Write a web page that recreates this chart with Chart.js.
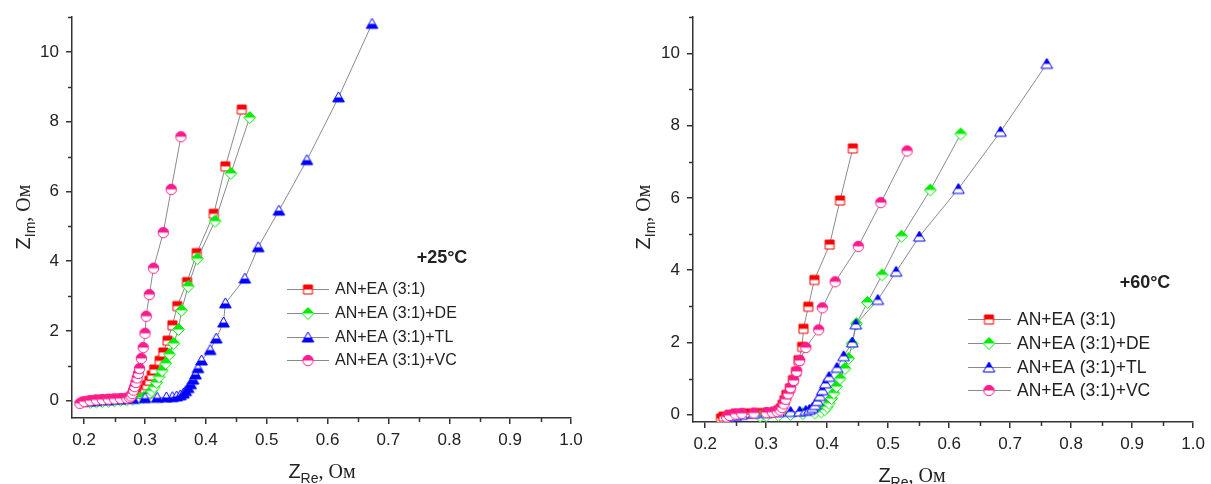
<!DOCTYPE html>
<html>
<head>
<meta charset="utf-8">
<title>Nyquist plots</title>
<script src="https://cdn.jsdelivr.net/npm/chart.js@4.4.1/dist/chart.umd.min.js"></script>
<style>
body { margin:0; background:#fff; }
#wrap { position:relative; width:1211px; height:484px; overflow:hidden; }
#wrap canvas { position:absolute; top:0; }
</style>
</head>
<body>
<div id="wrap">
	<canvas id="c25" width="600" height="484" style="left:0"></canvas>
	<canvas id="c60" width="591" height="484" style="left:620px"></canvas>
</div>
<script>
var seriesLabels = ['AN+EA (3:1)', 'AN+EA (3:1)+DE', 'AN+EA (3:1)+TL', 'AN+EA (3:1)+VC'];
var seriesColors = ['#ff0000', '#00ee00', '#0000ff', '#ff1a8c'];

var xTickValues = [0.2, 0.3, 0.4, 0.5, 0.6, 0.7, 0.8, 0.9, 1.0];
var xMinorValues = [0.25, 0.35, 0.45, 0.55, 0.65, 0.75, 0.85, 0.95];
var yTickValues = [0, 2, 4, 6, 8, 10];
var yMinorValues = [1, 3, 5, 7, 9, 11];

// +25 C
var re25_AN = [0.200,0.210,0.220,0.230,0.240,0.250,0.260,0.270,0.280,0.285,0.290,0.294,0.297,0.300,0.303,0.307,0.311,0.315,0.324,0.330,0.337,0.345,0.353,0.369,0.385,0.413,0.432,0.459];
var im25_AN = [-0.04,-0.01,0.01,0.02,0.03,0.04,0.05,0.06,0.07,0.09,0.12,0.17,0.24,0.33,0.44,0.57,0.72,0.89,1.14,1.38,1.72,2.16,2.71,3.40,4.23,5.36,6.72,8.35];
var re25_DE = [0.210,0.220,0.230,0.240,0.250,0.260,0.270,0.280,0.290,0.298,0.303,0.307,0.311,0.315,0.319,0.323,0.328,0.334,0.340,0.347,0.355,0.360,0.371,0.386,0.415,0.441,0.472];
var im25_DE = [-0.05,-0.04,-0.03,-0.02,-0.01,0.01,0.02,0.04,0.06,0.09,0.13,0.19,0.28,0.39,0.52,0.68,0.86,1.07,1.33,1.64,2.04,2.59,3.28,4.07,5.15,6.52,8.12];
var re25_TL = [0.210,0.220,0.240,0.260,0.280,0.300,0.320,0.335,0.345,0.352,0.358,0.363,0.367,0.371,0.375,0.379,0.383,0.387,0.393,0.407,0.417,0.429,0.432,0.464,0.486,0.520,0.566,0.618,0.673];
var im25_TL = [-0.02,-0.01,0.01,0.03,0.05,0.07,0.08,0.09,0.10,0.12,0.15,0.20,0.27,0.36,0.47,0.60,0.75,0.93,1.15,1.45,1.78,2.24,2.79,3.50,4.40,5.45,6.90,8.70,10.81];
var re25_VC = [0.193,0.200,0.210,0.220,0.230,0.240,0.250,0.260,0.270,0.275,0.277,0.279,0.281,0.283,0.285,0.287,0.289,0.291,0.294,0.297,0.300,0.302,0.307,0.314,0.330,0.343,0.359];
var im25_VC = [-0.08,-0.03,0.00,0.02,0.03,0.04,0.05,0.06,0.07,0.09,0.13,0.20,0.30,0.40,0.52,0.65,0.78,0.92,1.21,1.52,1.93,2.42,3.04,3.80,4.82,6.06,7.57];

// +60 C
var re60_AN = [0.226,0.230,0.240,0.250,0.270,0.290,0.305,0.315,0.320,0.324,0.327,0.330,0.333,0.339,0.344,0.349,0.353,0.359,0.361,0.369,0.379,0.404,0.421,0.442];
var im60_AN = [-0.10,-0.05,0.00,0.03,0.04,0.05,0.06,0.08,0.12,0.18,0.28,0.40,0.55,0.73,0.96,1.19,1.51,1.88,2.38,2.99,3.73,4.71,5.93,7.37];
var re60_DE = [0.290,0.300,0.320,0.340,0.360,0.380,0.390,0.396,0.400,0.403,0.407,0.411,0.415,0.421,0.429,0.435,0.441,0.448,0.466,0.490,0.522,0.569,0.619];
var im60_DE = [-0.04,-0.03,-0.01,0.01,0.03,0.05,0.08,0.14,0.22,0.32,0.45,0.60,0.78,1.00,1.28,1.56,1.97,2.52,3.11,3.87,4.94,6.22,7.77];
var re60_TL = [0.240,0.250,0.260,0.280,0.300,0.320,0.340,0.355,0.365,0.371,0.376,0.380,0.384,0.388,0.392,0.397,0.403,0.416,0.427,0.441,0.447,0.483,0.513,0.551,0.615,0.684,0.760];
var im60_TL = [-0.06,-0.03,0.00,0.03,0.05,0.07,0.08,0.09,0.11,0.14,0.19,0.27,0.38,0.52,0.68,0.87,1.05,1.30,1.62,2.00,2.50,3.18,3.96,4.93,6.25,7.83,9.71];
var re60_VC = [0.235,0.240,0.250,0.260,0.280,0.300,0.310,0.318,0.323,0.326,0.329,0.332,0.336,0.340,0.345,0.350,0.355,0.365,0.386,0.392,0.413,0.451,0.488,0.531];
var im60_VC = [-0.06,-0.02,0.02,0.04,0.05,0.06,0.07,0.09,0.13,0.20,0.30,0.43,0.58,0.75,0.95,1.20,1.50,1.86,2.35,2.96,3.68,4.66,5.87,7.30];

var AXIS = '#333';
var TEXT = '#222';
var SANS = '"Liberation Sans", Arial, sans-serif';
var SERIF = '"Liberation Serif", "Times New Roman", serif';

// half filled marker drawn once on a small canvas, used as pointStyle
function makeMarker(shape, color, half) {
	var s = 15, m = 7.5;
	var c = document.createElement('canvas');
	c.width = s; c.height = s;
	var g = c.getContext('2d');
	var path = function() {
		g.beginPath();
		if (shape == 'square') g.rect(m - 4.5, m - 4.5, 9, 9);
		else if (shape == 'circle') g.arc(m, m, 5.2, 0, Math.PI * 2);
		else if (shape == 'diamond') {
			g.moveTo(m, m - 6); g.lineTo(m + 6, m); g.lineTo(m, m + 6); g.lineTo(m - 6, m); g.closePath();
		} else {
			g.moveTo(m, m - 5.5); g.lineTo(m + 5.8, m + 4.5); g.lineTo(m - 5.8, m + 4.5); g.closePath();
		}
	};
	path(); g.fillStyle = '#fff'; g.fill();
	g.save(); path(); g.clip();
	g.fillStyle = color;
	if (half == 'top') g.fillRect(0, 0, s, m); else g.fillRect(0, m, s, s - m);
	g.restore();
	path(); g.strokeStyle = color; g.lineWidth = 1; g.stroke();
	return c;
}

function pairs(xs, ys) {
	return xs.map(function(x, i) { return {x:x, y:ys[i]}; });
}

var minorTicks = {
	id:'minorTicks',
	afterDraw:function(chart) {
		var ctx = chart.ctx, xs = chart.scales.x, ys = chart.scales.y;
		ctx.save();
		ctx.strokeStyle = AXIS;
		ctx.lineWidth = 1.5;
		xMinorValues.forEach(function(v) {
			var px = Math.round(xs.getPixelForValue(v)) + 0.5;
			ctx.beginPath(); ctx.moveTo(px, xs.top); ctx.lineTo(px, xs.top + 4); ctx.stroke();
		});
		yMinorValues.forEach(function(v) {
			if (v > ys.max) return;
			var py = Math.round(ys.getPixelForValue(v)) + 0.5;
			ctx.beginPath(); ctx.moveTo(ys.right, py); ctx.lineTo(ys.right - 4, py); ctx.stroke();
		});
		ctx.restore();
	}
};

// text pieces with subscript, centred on (cx, cy)
function drawParts(ctx, parts, cx, cy, angle) {
	ctx.save();
	ctx.translate(cx, cy);
	ctx.rotate(angle);
	ctx.textBaseline = 'alphabetic';
	ctx.fillStyle = TEXT;
	var w = 0;
	parts.forEach(function(p) { ctx.font = p[1]; w += ctx.measureText(p[0]).width; });
	var x = -w / 2;
	parts.forEach(function(p) {
		ctx.font = p[1];
		ctx.fillText(p[0], x, 7 + p[2]);
		x += ctx.measureText(p[0]).width;
	});
	ctx.restore();
}

var insetLegend = {
	id:'insetLegend',
	afterDraw:function(chart, args, o) {
		var ctx = chart.ctx;
		ctx.save();
		chart.data.datasets.forEach(function(ds, i) {
			var y = o.rows[i];
			ctx.strokeStyle = '#8a8a8a';
			ctx.lineWidth = 1;
			ctx.beginPath(); ctx.moveTo(o.x0, y + 0.5); ctx.lineTo(o.x1, y + 0.5); ctx.stroke();
			var img = ds.pointStyle;
			ctx.drawImage(img, o.xm - img.width / 2, y - img.height / 2 + 0.5);
			ctx.fillStyle = TEXT;
			ctx.font = o.font;
			ctx.textBaseline = 'middle';
			ctx.fillText(ds.label, o.xt, y + 1);
		});
		ctx.font = 'bold 18px ' + SANS;
		ctx.textBaseline = 'middle';
		ctx.textAlign = 'center';
		ctx.fillText(o.tag, o.tagX, o.tagY);
		ctx.restore();

		drawParts(ctx, [['Z', '20px ' + SANS, 0], ['Re', '14px ' + SANS, 5], [', Ом', '20px ' + SERIF, 0]], o.xTitle[0], o.xTitle[1], 0);
		drawParts(ctx, [['Z', '20px ' + SANS, 0], ['Im', '14px ' + SANS, 5], [', Ом', '20px ' + SERIF, 0]], o.yTitle[0], o.yTitle[1], -Math.PI / 2);
	}
};

var NyquistFactory = function(params) {
	var chart;
	var markers;
	var ctx;

	var init = function() {
		ctx = document.getElementById(params.canvasId).getContext('2d');
		markers = params.shapes.map(function(shape, i) {
			return makeMarker(shape, seriesColors[i], params.halves[i]);
		});
	};

	init();

	var tickFont = {family:SANS, size:17};

	return {
		build:function(series) {
			if (chart) chart.destroy();

			var datasets = series.map(function(s, i) {
				return {
					label:seriesLabels[i],
					data:pairs(s[0], s[1]),
					showLine:true,
					borderColor:'#8a8a8a',
					borderWidth:1,
					pointStyle:markers[i],
					pointRadius:4,
					order:4 - i
				};
			});

			chart = new Chart(ctx, {
				type:'scatter',
				data:{datasets:datasets},
				plugins:[minorTicks, insetLegend],
				options:{
					responsive:false,
					animation:false,
					devicePixelRatio:1,
					events:[],
					layout:{padding:{left:0, top:15, right:params.padRight, bottom:0}},
					plugins:{
						legend:{display:false},
						tooltip:{enabled:false},
						insetLegend:params.legend
					},
					scales:{
						x:{
							type:'linear',
							min:params.xMin,
							max:1.0,
							afterFit:function(s) { s.height = params.xHeight; },
							afterBuildTicks:function(s) { s.ticks = xTickValues.map(function(v) { return {value:v}; }); },
							ticks:{callback:function(v) { return v.toFixed(1); }, font:tickFont, color:TEXT, padding:6, maxRotation:0, autoSkip:false},
							grid:{drawOnChartArea:false, tickLength:6, color:AXIS, lineWidth:1.5},
							border:{color:AXIS, width:1.5}
						},
						y:{
							type:'linear',
							min:params.yMin,
							max:11,
							afterFit:function(s) { s.width = params.yWidth; },
							afterBuildTicks:function(s) { s.ticks = yTickValues.map(function(v) { return {value:v}; }); },
							ticks:{callback:function(v) { return String(v); }, font:tickFont, color:TEXT, padding:7, autoSkip:false},
							grid:{drawOnChartArea:false, tickLength:6, color:AXIS, lineWidth:1.5},
							border:{color:AXIS, width:1.5}
						}
					}
				}
			});
		}
	};
};

var left = NyquistFactory({
	canvasId:'c25',
	shapes:['square', 'diamond', 'triangle', 'circle'],
	halves:['top', 'top', 'bottom', 'top'],
	xMin:0.18, yMin:-0.5,
	yWidth:72, xHeight:66, padRight:29,
	legend:{rows:[289, 313, 337, 360], x0:287, x1:329, xm:308, xt:335, font:'16px ' + SANS,
		tag:'+25°C', tagX:442, tagY:258, xTitle:[322, 471], yTitle:[23, 217]}
});
left.build([[re25_AN, im25_AN], [re25_DE, im25_DE], [re25_TL, im25_TL], [re25_VC, im25_VC]]);

var right = NyquistFactory({
	canvasId:'c60',
	shapes:['square', 'diamond', 'triangle', 'circle'],
	halves:['top', 'top', 'top', 'top'],
	xMin:0.18, yMin:-0.2,
	yWidth:73, xHeight:62, padRight:14,
	legend:{rows:[319, 343, 367, 390], x0:348, x1:391, xm:369, xt:397, font:'17.5px ' + SANS,
		tag:'+60°C', tagX:525, tagY:283, xTitle:[292, 475], yTitle:[23, 217]}
});
right.build([[re60_AN, im60_AN], [re60_DE, im60_DE], [re60_TL, im60_TL], [re60_VC, im60_VC]]);
</script>
</body>
</html>
